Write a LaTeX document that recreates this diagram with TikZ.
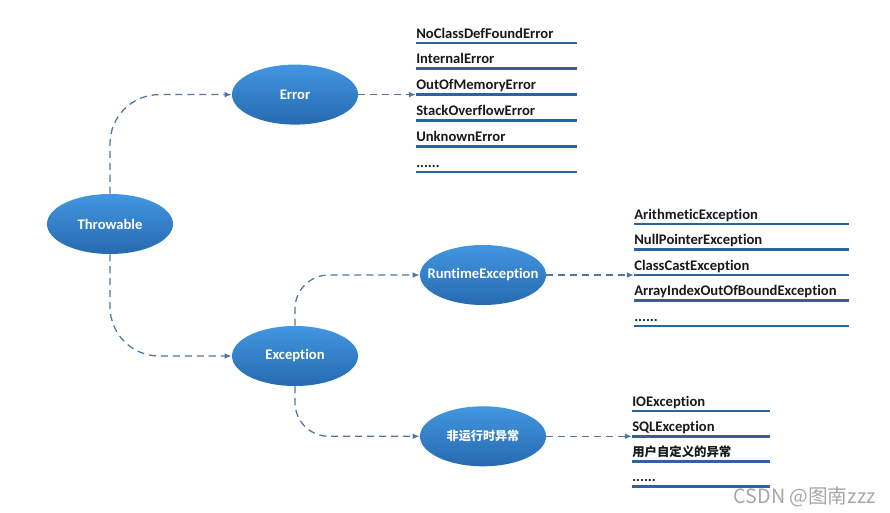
\documentclass[tikz,border=0pt]{standalone}
\usepackage{fontspec}
\setmainfont{Carlito}[Ligatures={NoCommon}]
\newfontfamily\cjk{Noto Sans CJK SC}
\usetikzlibrary{shapes.geometric,arrows.meta}
\definecolor{balltop}{RGB}{66,150,224}
\definecolor{ballbot}{RGB}{38,106,176}
\definecolor{linkblue}{RGB}{78,118,160}
\definecolor{listblue}{RGB}{44,100,158}
\newcommand*\moredots{......}

\begin{document}
\begin{tikzpicture}[x = 0.025cm, y = -0.025cm,
                   ball/.style      = {shape          = ellipse,
                                       top color      = balltop,
                                       bottom color   = ballbot,
                                       minimum width  = 3.15cm,
                                       minimum height = 1.5cm,
                                       inner sep      = 0pt,
                                       text           = white,
                                       font           = \fontsize{10.4}{12}\selectfont\bfseries,
                                       execute at begin node = {\hbox to 0pt\bgroup\hss},
                                       execute at end node   = {\hss\egroup}},
                   item/.style      = {anchor         = base west,
                                       inner sep      = 0pt,
                                       text           = black!90,
                                       font           = \fontsize{10.4}{12}\selectfont\bfseries},
                   link/.style      = {-{Latex[length=5pt,width=4pt]},
                                       linkblue,
                                       line width     = 0.9pt,
                                       dash pattern   = on 5pt off 3.5pt},
                   list line/.style = {listblue,
                                       line width     = 2pt}]
\useasboundingbox (0,0) rectangle (890,513);

% the nodes
\node[ball] (thr) at (110,224)   {Throwable};
  \node[ball] (err) at (295,94.6) {Error};
  \node[ball] (exc) at (295,356)  {Exception};
     \node[ball] (rt)  at (483,275) {RuntimeException};
     \node[ball, font=\cjk\fontsize{8.6}{11}\selectfont\bfseries] (nrt) at (483,436.3) {非运行时异常};

% the lists
\foreach \t [count=\i, evaluate=\i as \y using 17.2+25.8*\i] in
    {NoClassDefFoundError, InternalError, OutOfMemoryError,
     StackOverflowError, UnknownError, \moredots}
  { \node[item] (err\i) at (416,\y-5) {\t};
    \draw[list line] (416,\y) -- (577,\y); }
\foreach \t [count=\i, evaluate=\i as \y using 198.5+25.5*\i] in
    {ArithmeticException, NullPointerException, ClassCastException,
     ArrayIndexOutOfBoundException, \moredots}
  { \node[item] (rt\i) at (634,\y-5) {\t};
    \draw[list line] (634,\y) -- (849,\y); }
\foreach \t [count=\i, evaluate=\i as \y using 385.7+25.3*\i] in
    {IOException, SQLException, {\cjk\fontsize{8.8}{11}\selectfont 用户自定义的异常}, \moredots}
  { \node[item] (nrt\i) at (632,\y-5) {\t};
    \draw[list line] (632,\y) -- (770,\y); }

\coordinate (errIn) at (416,94.6);
\coordinate (rtIn)  at (634,275);
\coordinate (nrtIn) at (632,436.3);

% edges
\draw[link, rounded corners=35pt] (thr.north) |- (err.west);
\draw[link, rounded corners=35pt] (thr.south) |- (exc.west);
\draw[link, rounded corners=24pt] (exc.north) |- (rt.west);
\draw[link, rounded corners=24pt] (exc.south) |- (nrt.west);
\draw[link] (err.east) -- (errIn);
\draw[link] (rt.east)  -- (rtIn);
\draw[link] (nrt.east) -- (nrtIn);

\node[anchor=base east, inner sep=0pt, text=black!35,
      font=\cjk\fontsize{14}{16}\selectfont] (mark) at (876,503) {CSDN @图南zzz};
\end{tikzpicture}
\end{document}
